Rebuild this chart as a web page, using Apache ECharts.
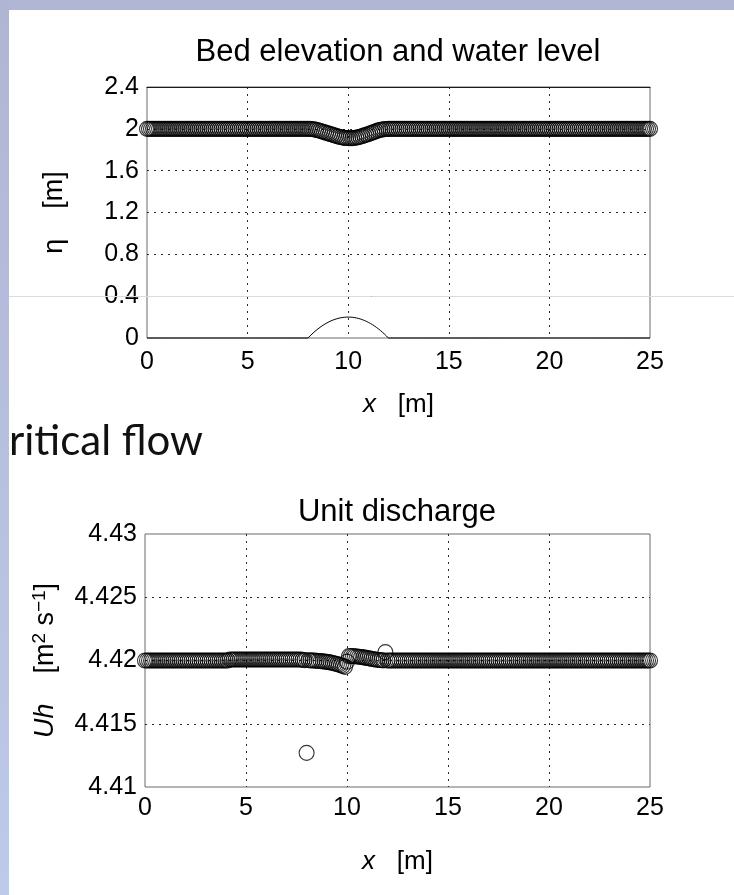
<!DOCTYPE html>
<html>
<head>
<meta charset="utf-8">
<script src="https://cdn.jsdelivr.net/npm/echarts@6/dist/echarts.min.js"></script>
<style>
html,body{margin:0;padding:0;background:#ffffff;}
#chart{width:734px;height:895px;}
</style>
</head>
<body>
<div id="chart"></div>
<script>
// ---- data ----
const dx = 0.1; // spacing of the computational nodes along x [m] (251 nodes, x = 0 ... 25)
const xTicks = ['0', '5', '10', '15', '20', '25'];
const etaTicks = ['0', '0.4', '0.8', '1.2', '1.6', '2', '2.4'];
const qTicks = ['4.41', '4.415', '4.42', '4.425', '4.43'];

// water level eta [m] at each node
const waterLevel = [
  2, 2, 2, 2, 2, 2, 2, 2, 2, 2,
  2, 2, 2, 2, 2, 2, 2, 2, 2, 2,
  2, 2, 2, 2, 2, 2, 2, 2, 2, 2,
  2, 2, 2, 2, 2, 2, 2, 2, 2, 2,
  2, 2, 2, 2, 2, 2, 2, 2, 2, 2,
  2, 2, 2, 2, 2, 2, 2, 2, 2, 2,
  2, 2, 2, 2, 2, 2, 2, 2, 2, 2,
  2, 2, 2, 2, 2, 2, 2, 2, 2, 2,
  2,
  1.9995, 1.998, 1.995, 1.991, 1.986, 1.981, 1.975, 1.969, 1.963,
  1.957, 1.951, 1.945, 1.939, 1.933, 1.927, 1.922, 1.918, 1.914, 1.912,
  1.911, 1.910, 1.911, 1.913, 1.916, 1.920, 1.925, 1.931, 1.937, 1.944,
  1.950, 1.957, 1.964, 1.971, 1.978, 1.985, 1.990, 1.994, 1.997, 1.999,
  2, 2, 2, 2, 2, 2, 2, 2, 2, 2,
  2, 2, 2, 2, 2, 2, 2, 2, 2, 2,
  2, 2, 2, 2, 2, 2, 2, 2, 2, 2,
  2, 2, 2, 2, 2, 2, 2, 2, 2, 2,
  2, 2, 2, 2, 2, 2, 2, 2, 2, 2,
  2, 2, 2, 2, 2, 2, 2, 2, 2, 2,
  2, 2, 2, 2, 2, 2, 2, 2, 2, 2,
  2, 2, 2, 2, 2, 2, 2, 2, 2, 2,
  2, 2, 2, 2, 2, 2, 2, 2, 2, 2,
  2, 2, 2, 2, 2, 2, 2, 2, 2, 2,
  2, 2, 2, 2, 2, 2, 2, 2, 2, 2,
  2, 2, 2, 2, 2, 2, 2, 2, 2, 2,
  2, 2, 2, 2, 2, 2, 2, 2, 2, 2,
  2
];

// bed elevation [m] at each node
const bedElevation = [
  0, 0, 0, 0, 0, 0, 0, 0, 0, 0,
  0, 0, 0, 0, 0, 0, 0, 0, 0, 0,
  0, 0, 0, 0, 0, 0, 0, 0, 0, 0,
  0, 0, 0, 0, 0, 0, 0, 0, 0, 0,
  0, 0, 0, 0, 0, 0, 0, 0, 0, 0,
  0, 0, 0, 0, 0, 0, 0, 0, 0, 0,
  0, 0, 0, 0, 0, 0, 0, 0, 0, 0,
  0, 0, 0, 0, 0, 0, 0, 0, 0, 0,
  0,
  0.0195, 0.038, 0.0555, 0.072, 0.0875, 0.102, 0.1155, 0.128, 0.1395,
  0.15, 0.1595, 0.168, 0.1755, 0.182, 0.1875, 0.192, 0.1955, 0.198, 0.1995,
  0.2, 0.1995, 0.198, 0.1955, 0.192, 0.1875, 0.182, 0.1755, 0.168, 0.1595,
  0.15, 0.1395, 0.128, 0.1155, 0.102, 0.0875, 0.072, 0.0555, 0.038, 0.0195,
  0, 0, 0, 0, 0, 0, 0, 0, 0, 0,
  0, 0, 0, 0, 0, 0, 0, 0, 0, 0,
  0, 0, 0, 0, 0, 0, 0, 0, 0, 0,
  0, 0, 0, 0, 0, 0, 0, 0, 0, 0,
  0, 0, 0, 0, 0, 0, 0, 0, 0, 0,
  0, 0, 0, 0, 0, 0, 0, 0, 0, 0,
  0, 0, 0, 0, 0, 0, 0, 0, 0, 0,
  0, 0, 0, 0, 0, 0, 0, 0, 0, 0,
  0, 0, 0, 0, 0, 0, 0, 0, 0, 0,
  0, 0, 0, 0, 0, 0, 0, 0, 0, 0,
  0, 0, 0, 0, 0, 0, 0, 0, 0, 0,
  0, 0, 0, 0, 0, 0, 0, 0, 0, 0,
  0, 0, 0, 0, 0, 0, 0, 0, 0, 0,
  0
];

// unit discharge Uh [m2 s-1] at each node
const unitDischarge = [
  4.42, 4.42, 4.42, 4.42, 4.42, 4.42, 4.42, 4.42, 4.42, 4.42,
  4.42, 4.42, 4.42, 4.42, 4.42, 4.42, 4.42, 4.42, 4.42, 4.42,
  4.42, 4.42, 4.42, 4.42, 4.42, 4.42, 4.42, 4.42, 4.42, 4.42,
  4.42, 4.42, 4.42, 4.42, 4.42, 4.42, 4.42, 4.42, 4.42, 4.42,
  4.42, 4.42,
  4.42008, 4.42008, 4.42008, 4.42008, 4.42008, 4.42008, 4.42008, 4.42008, 4.42008, 4.42008,
  4.42008, 4.42008, 4.42008, 4.42008, 4.42008, 4.42008, 4.42008, 4.42008, 4.42008, 4.42008,
  4.42008, 4.42008, 4.42008, 4.42008, 4.42008, 4.42008, 4.42008, 4.42008, 4.42008, 4.42008,
  4.42008, 4.42008, 4.42008, 4.42008, 4.42008, 4.42008,
  4.42005, 4.42003,
  4.4127,
  4.42002, 4.42001, 4.42, 4.41999, 4.41998, 4.41996, 4.41995, 4.41993, 4.41991,
  4.41989, 4.41987, 4.41984, 4.4198, 4.41976, 4.41972, 4.41967, 4.41962, 4.41956, 4.4195,
  4.4199,
  4.42035, 4.42036, 4.42035, 4.42034, 4.42032, 4.4203, 4.42028, 4.42025, 4.42023,
  4.4202, 4.42017, 4.42014, 4.42011, 4.42008, 4.42006, 4.42004, 4.42002, 4.42001,
  4.42066,
  4.42, 4.42, 4.42, 4.42, 4.42, 4.42, 4.42, 4.42, 4.42, 4.42,
  4.42, 4.42, 4.42, 4.42, 4.42, 4.42, 4.42, 4.42, 4.42, 4.42,
  4.42, 4.42, 4.42, 4.42, 4.42, 4.42, 4.42, 4.42, 4.42, 4.42,
  4.42, 4.42, 4.42, 4.42, 4.42, 4.42, 4.42, 4.42, 4.42, 4.42,
  4.42, 4.42, 4.42, 4.42, 4.42, 4.42, 4.42, 4.42, 4.42, 4.42,
  4.42, 4.42, 4.42, 4.42, 4.42, 4.42, 4.42, 4.42, 4.42, 4.42,
  4.42, 4.42, 4.42, 4.42, 4.42, 4.42, 4.42, 4.42, 4.42, 4.42,
  4.42, 4.42, 4.42, 4.42, 4.42, 4.42, 4.42, 4.42, 4.42, 4.42,
  4.42, 4.42, 4.42, 4.42, 4.42, 4.42, 4.42, 4.42, 4.42, 4.42,
  4.42, 4.42, 4.42, 4.42, 4.42, 4.42, 4.42, 4.42, 4.42, 4.42,
  4.42, 4.42, 4.42, 4.42, 4.42, 4.42, 4.42, 4.42, 4.42, 4.42,
  4.42, 4.42, 4.42, 4.42, 4.42, 4.42, 4.42, 4.42, 4.42, 4.42,
  4.42, 4.42, 4.42, 4.42, 4.42, 4.42, 4.42, 4.42, 4.42, 4.42,
  4.42
];

// ---- chart ----
const toPairs = arr => arr.map((v, i) => [Math.round(i * dx * 1000) / 1000, v]);
const FONT = '"Liberation Sans", Arial, Helvetica, sans-serif';
const tickFmt = (labels, min, step) => v => {
  const k = Math.round((v - min) / step);
  return labels[k] !== undefined ? labels[k] : '';
};
const gridLine = { show: true, showMinLine: false, showMaxLine: false,
  lineStyle: { color: '#2a2a2a', width: 1, type: [2, 5] } };
const labelBase = { color: '#000', fontSize: 25, fontFamily: FONT };
const nameBase = { color: '#000', fontSize: 26, fontFamily: FONT };
const nameBig = { color: '#000', fontSize: 27, fontFamily: FONT };
const circleStyle = { color: 'rgba(0,0,0,0)', borderColor: '#000', borderWidth: 1.1 };

function xAxisFor(gridIndex, gap, margin) {
  return {
    gridIndex, type: 'value', min: 0, max: 25, interval: 5,
    axisLine: { show: false }, axisTick: { show: false },
    splitLine: gridLine,
    axisLabel: Object.assign({ margin, formatter: tickFmt(xTicks, 0, 5) }, labelBase),
    name: '{i|x}{n|   [m]}', nameLocation: 'middle', nameGap: gap,
    nameTextStyle: Object.assign({
      rich: {
        i: Object.assign({ fontStyle: 'italic' }, nameBase),
        n: Object.assign({}, nameBase)
      }
    }, nameBase)
  };
}

const chart = echarts.init(document.getElementById('chart'), null, { renderer: 'canvas' });
chart.setOption({
  animation: false,
  backgroundColor: '#ffffff',
  title: [
    { text: 'Bed elevation and water level', left: 398, top: 37, textAlign: 'center', padding: 0,
      textStyle: { fontSize: 31, fontWeight: 'normal', color: '#000', fontFamily: FONT } },
    { text: 'Unit discharge', left: 397, top: 497, textAlign: 'center', padding: 0,
      textStyle: { fontSize: 31, fontWeight: 'normal', color: '#000', fontFamily: FONT } }
  ],
  grid: [
    { left: 147, top: 87, width: 503, height: 251, show: true, borderColor: '#6a6a6a', borderWidth: 1 },
    { left: 145, top: 534, width: 505, height: 253, show: true, borderColor: '#6a6a6a', borderWidth: 1 }
  ],
  xAxis: [
    xAxisFor(0, 54, 12),
    xAxisFor(1, 62, 9),
    // top edge of the upper box is drawn darker in the reference
    { gridIndex: 0, type: 'value', position: 'top', min: 0, max: 25, interval: 5,
      axisLine: { show: true, lineStyle: { color: '#1a1a1a', width: 1 } },
      axisTick: { show: false }, axisLabel: { show: false }, splitLine: { show: false } }
  ],
  yAxis: [
    {
      gridIndex: 0, type: 'value', min: 0, max: 2.4, interval: 0.4,
      axisLine: { show: false }, axisTick: { show: false },
      splitLine: gridLine,
      axisLabel: Object.assign({ margin: 8, formatter: tickFmt(etaTicks, 0, 0.4) }, labelBase),
      name: 'η    [m]', nameLocation: 'middle', nameRotate: 90, nameGap: 79,
      nameTextStyle: nameBig
    },
    {
      gridIndex: 1, type: 'value', min: 4.41, max: 4.43, interval: 0.005,
      axisLine: { show: false }, axisTick: { show: false },
      splitLine: gridLine,
      axisLabel: Object.assign({ margin: 8, formatter: tickFmt(qTicks, 4.41, 0.005) }, labelBase),
      name: '{i|Uh}{n|    [m}{s|2}{n| s}{s|−1}{n|]}', nameLocation: 'middle', nameRotate: 90, nameGap: 84,
      nameTextStyle: Object.assign({
        rich: {
          i: Object.assign({ fontStyle: 'italic' }, nameBig),
          n: Object.assign({}, nameBig),
          s: { color: '#000', fontSize: 19, fontFamily: FONT, verticalAlign: 'top', lineHeight: 31 }
        }
      }, nameBig)
    }
  ],
  series: [
    {
      name: 'bed', type: 'line', xAxisIndex: 0, yAxisIndex: 0,
      data: toPairs(bedElevation), showSymbol: false, symbol: 'none',
      lineStyle: { color: '#000', width: 1 }, z: 3, clip: false
    },
    {
      name: 'water level', type: 'scatter', xAxisIndex: 0, yAxisIndex: 0,
      data: toPairs(waterLevel), symbol: 'circle', symbolSize: 15,
      itemStyle: circleStyle, clip: false, z: 4
    },
    {
      name: 'unit discharge', type: 'scatter', xAxisIndex: 1, yAxisIndex: 1,
      data: toPairs(unitDischarge), symbol: 'circle', symbolSize: 15,
      itemStyle: circleStyle, clip: false, z: 4
    }
  ],
  graphic: [
    { type: 'line', z: 90, silent: true,
      shape: { x1: 9, y1: 296.5, x2: 734, y2: 296.5 },
      style: { stroke: '#dadbe3', lineWidth: 1 } },
    { type: 'text', z: 95, silent: true,
      style: { text: 'ritical flow', x: 9, y: 441, fill: '#111',
        font: '42px Lato, "Open Sans", sans-serif', verticalAlign: 'middle', textVerticalAlign: 'middle' } },
    { type: 'rect', z: 100, silent: true,
      shape: { x: 0, y: 0, width: 734, height: 10 },
      style: { fill: '#b2b6d5' } },
    { type: 'rect', z: 100, silent: true,
      shape: { x: 0, y: 0, width: 9, height: 895 },
      style: { fill: new echarts.graphic.LinearGradient(0, 0, 0, 1, [
        { offset: 0, color: '#b1b5d4' }, { offset: 1, color: '#bdcae9' }]) } }
  ]
});
</script>
</body>
</html>
